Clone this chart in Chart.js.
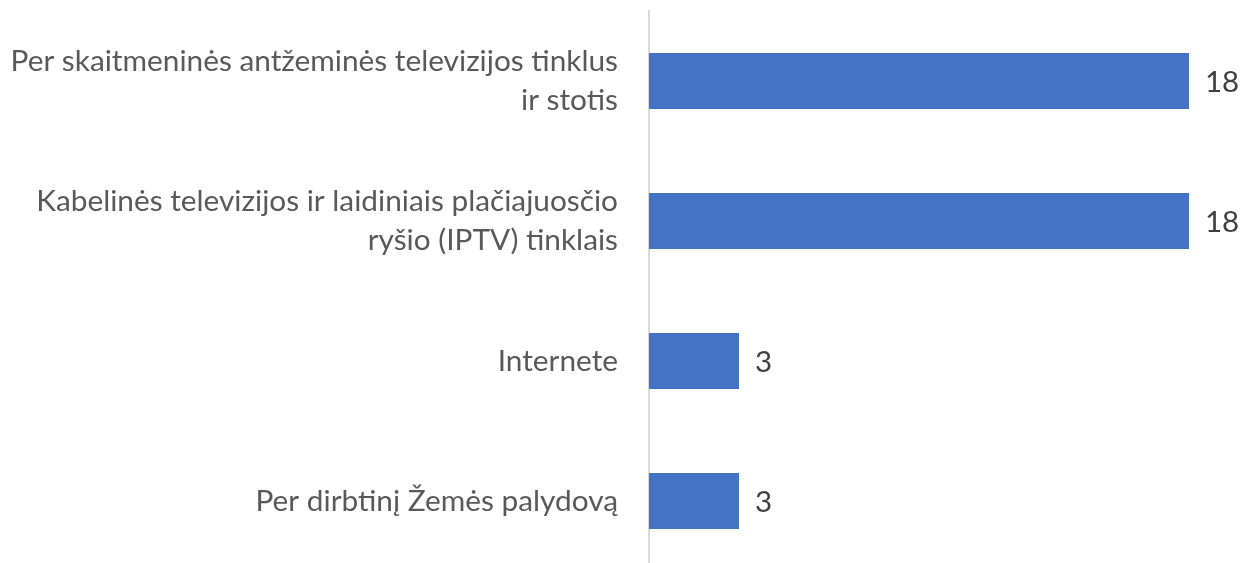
<!DOCTYPE html>
<html>
<head>
<meta charset="utf-8">
<script src="https://cdn.jsdelivr.net/npm/chart.js@4/dist/chart.umd.min.js"></script>
<style>
  html, body { margin: 0; padding: 0; background: #fff; overflow: hidden; }
  #wrap { width: 1240px; height: 571px; position: relative; }
</style>
</head>
<body>
<div id="wrap"><canvas id="tv-graph"></canvas></div>
<script>
const categories = [
  ["Per skaitmeninės antžeminės televizijos tinklus", "ir stotis"],
  ["Kabelinės televizijos ir laidiniais plačiajuosčio", "ryšio (IPTV) tinklais"],
  ["Internete"],
  ["Per dirbtinį Žemės palydovą"],
];
const counts = [18, 18, 3, 3];

const labelColor = "#595959";
const valueColor = "#404040";
const fontFamily = "Lato, 'Open Sans', sans-serif";
const fontSize = 29.8;

// value labels drawn to the right of each bar
const valueLabels = {
  id: "valueLabels",
  afterDatasetsDraw(chart) {
    const c = chart.ctx;
    const meta = chart.getDatasetMeta(0);
    c.save();
    c.font = "29.5px " + fontFamily;
    c.fillStyle = valueColor;
    c.textAlign = "left";
    c.textBaseline = "middle";
    meta.data.forEach((bar, i) => {
      c.fillText(String(counts[i]), bar.x + 16, bar.y + 1);
    });
    c.restore();
  },
};

const ctx = document.getElementById("tv-graph").getContext("2d");

const tvGraph = new Chart(ctx, {
  type: "bar",
  data: {
    labels: categories,
    datasets: [
      {
        data: counts,
        backgroundColor: "#4472C4",
        borderWidth: 0,
        barPercentage: 0.4,
        categoryPercentage: 1,
      },
    ],
  },
  options: {
    indexAxis: "y",
    responsive: true,
    maintainAspectRatio: false,
    animation: false,
    layout: { padding: { top: 11, bottom: 0, left: 0, right: 0 } },
    plugins: {
      legend: { display: false },
      tooltip: { enabled: false },
    },
    scales: {
      x: {
        min: 0,
        max: 19.7,
        display: false,
      },
      y: {
        afterFit(scale) {
          scale.width = 649;
          scale.paddingTop = 0;
          scale.paddingBottom = 0;
        },
        grid: { display: false, drawTicks: false },
        border: { display: true, color: "#d9d9d9", width: 2 },
        ticks: {
          color: labelColor,
          padding: 31,
          font: { family: fontFamily, size: fontSize, lineHeight: 1.31 },
        },
      },
    },
  },
  plugins: [valueLabels],
});
</script>
</body>
</html>
